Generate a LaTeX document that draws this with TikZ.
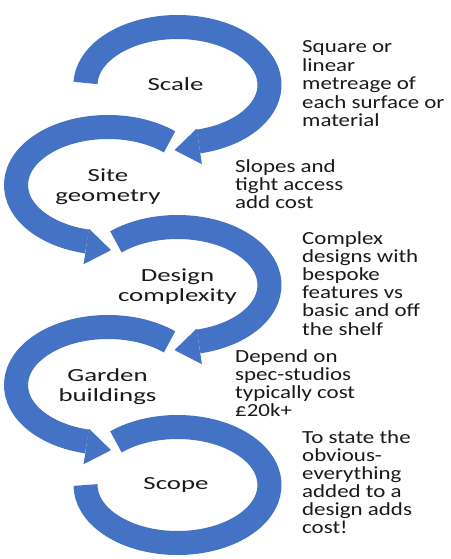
\documentclass[tikz,border=0pt]{standalone}
\usepackage{fontspec}
\setmainfont{Carlito}
\newfontfamily\labfont[FakeStretch=1.45]{Carlito}
\newfontfamily\descfont[FakeStretch=1.24]{Carlito}
\definecolor{band}{HTML}{4472C4}
\definecolor{ink}{HTML}{1A1A1A}
\begin{document}
\begin{tikzpicture}[x=1pt,y=-1pt,
  bandstyle/.style={draw=band, line width=24pt},
  headstyle/.style={fill=band},
  lab/.style={inner sep=0pt, anchor=base, text=ink, font=\labfont\fontsize{18.5}{20.5}\selectfont},
  desc/.style={inner sep=0pt, anchor=base west, text=ink, font=\descfont\fontsize{18.5}{18}\selectfont}]
\useasboundingbox[fill=white] (0,0) rectangle (450,559);

% circle 1 (right side)
\draw[bandstyle] ({177.5+92*cos(182)},{85+58*sin(182)}) arc[start angle=182,end angle=436.8,x radius=92,y radius=58];
\begin{scope}[shift={(177.5,85)}]
  \fill[headstyle] (19.1,43.6) -- (24.4,79.2) -- (-3.0,65.1) -- cycle;
\end{scope}
% circle 2 (left side)
\draw[bandstyle] ({108+92*cos(-48)},{185+58*sin(-48)}) arc[start angle=-48,end angle=-256.8,x radius=92,y radius=58];
\begin{scope}[shift={(108,185)}]
  \fill[headstyle] (-19.1,43.6) -- (-24.4,79.2) -- (3.0,65.1) -- cycle;
\end{scope}
% circle 3 (right side)
\draw[bandstyle] ({177.5+92*cos(228)},{285+58*sin(228)}) arc[start angle=228,end angle=436.8,x radius=92,y radius=58];
\begin{scope}[shift={(177.5,285)}]
  \fill[headstyle] (19.1,43.6) -- (24.4,79.2) -- (-3.0,65.1) -- cycle;
\end{scope}
% circle 4 (left side)
\draw[bandstyle] ({108+92*cos(-48)},{385+58*sin(-48)}) arc[start angle=-48,end angle=-256.8,x radius=92,y radius=58];
\begin{scope}[shift={(108,385)}]
  \fill[headstyle] (-19.1,43.6) -- (-24.4,79.2) -- (3.0,65.1) -- cycle;
\end{scope}
% circle 5 (right side, no head)
\draw[bandstyle] ({177.5+92*cos(228)},{485+58*sin(228)}) arc[start angle=228,end angle=540,x radius=92,y radius=58];

% labels
\node[lab] (l1) at (175.5,91) {\begin{tabular}[t]{@{}c@{}}Scale\end{tabular}};
\node[lab] (l2) at (108,181) {\begin{tabular}[t]{@{}c@{}}Site\\geometry\end{tabular}};
\node[lab] (l3) at (177.5,281) {\begin{tabular}[t]{@{}c@{}}Design\\complexity\end{tabular}};
\node[lab] (l4) at (107.5,381) {\begin{tabular}[t]{@{}c@{}}Garden\\buildings\end{tabular}};
\node[lab] (l5) at (176,489) {\begin{tabular}[t]{@{}c@{}}Scope\end{tabular}};

% descriptions
\node[desc] (d1) at (302,53) {\fontsize{18.5}{18.5}\selectfont\begin{tabular}[t]{@{}l@{}}Square or\\linear\\metreage of\\each surface or\\material\end{tabular}};
\node[desc] (d2) at (235,172) {\begin{tabular}[t]{@{}l@{}}Slopes and\\tight access\\add cost\end{tabular}};
\node[desc] (d3) at (302,244) {\begin{tabular}[t]{@{}l@{}}Complex\\designs with\\bespoke\\features vs\\basic and off\\the shelf\end{tabular}};
\node[desc] (d4) at (235,362) {\begin{tabular}[t]{@{}l@{}}Depend on\\spec-studios\\typically cost\\£20k+\end{tabular}};
\node[desc] (d5) at (302,443) {\begin{tabular}[t]{@{}l@{}}To state the\\obvious-\\everything\\added to a\\design adds\\cost!\end{tabular}};
\end{tikzpicture}
\end{document}
